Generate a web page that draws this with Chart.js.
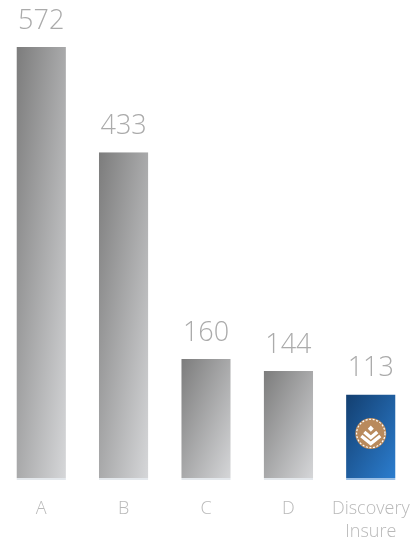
<!DOCTYPE html>
<html>
<head>
<meta charset="utf-8">
<script src="https://cdn.jsdelivr.net/npm/chart.js@4"></script>
<style>
  html, body { margin: 0; padding: 0; background: #fff; overflow: hidden; }
  canvas { display: block; }
</style>
</head>
<body>
<canvas id="chart" width="412" height="539"></canvas>
<script>
const labels = ['A', 'B', 'C', 'D', ['Discovery', 'Insure']];
const values = [572, 433, 160, 144, 113];
const highlight = 4;

const GREY = ['#7c7c7c', '#d6d7d9'];
const BLUE = ['#133f70', '#2c7ed0'];

// gradient running corner to corner inside the bar's own box
function bar_fill(ctx) {
  const chart = ctx.chart;
  if (!chart.chartArea) {
    return GREY[1];
  }
  const i = ctx.dataIndex;
  const xs = chart.scales.x;
  const ys = chart.scales.y;
  const w = (xs.width / labels.length) * 0.6;
  const x0 = xs.getPixelForValue(i) - w / 2;
  const y0 = ys.getPixelForValue(values[i]);
  const h = Math.max(ys.getPixelForValue(0) - y0, 1);
  const t = 2 / (1 / (w * w) + 1 / (h * h));
  const g = chart.ctx.createLinearGradient(x0, y0, x0 + t / w, y0 + t / h);
  const c = i === highlight ? BLUE : GREY;
  g.addColorStop(0, c[0]);
  g.addColorStop(1, c[1]);
  return g;
}

const value_labels = {
  id: 'value_labels',
  afterDatasetsDraw(chart) {
    const ctx = chart.ctx;
    const meta = chart.getDatasetMeta(0);
    ctx.save();
    ctx.font = '300 27px "Open Sans"';
    ctx.fillStyle = '#ababab';
    ctx.textAlign = 'center';
    ctx.textBaseline = 'alphabetic';
    meta.data.forEach((bar, i) => {
      ctx.fillText(String(values[i]), bar.x, bar.y - 18);
    });
    ctx.restore();
  }
};

function chevron(ctx, cx, cy, half, drop) {
  ctx.beginPath();
  ctx.moveTo(cx - half, cy);
  ctx.lineTo(cx, cy + drop);
  ctx.lineTo(cx + half, cy);
  ctx.stroke();
}

// round badge on the highlighted bar
const badge = {
  id: 'badge',
  afterDatasetsDraw(chart) {
    const bar = chart.getDatasetMeta(0).data[highlight];
    const ctx = chart.ctx;
    const cx = bar.x;
    const cy = bar.y + 39;
    const r = 15.5;
    ctx.save();
    ctx.beginPath();
    ctx.arc(cx, cy, r, 0, Math.PI * 2);
    ctx.fillStyle = '#b98a5c';
    ctx.fill();
    ctx.setLineDash([2, 1.6]);
    ctx.lineWidth = 1.2;
    ctx.strokeStyle = '#ffffff';
    ctx.beginPath();
    ctx.arc(cx, cy, r - 1.3, 0, Math.PI * 2);
    ctx.stroke();
    ctx.setLineDash([]);
    ctx.lineWidth = 3.4;
    chevron(ctx, cx, cy + 2.5, 9.5, 7.5);
    chevron(ctx, cx, cy - 1.5, 6.5, 5.5);
    ctx.fillStyle = '#ffffff';
    ctx.beginPath();
    ctx.moveTo(cx, cy - 8);
    ctx.lineTo(cx + 3, cy - 4.8);
    ctx.lineTo(cx, cy - 1.8);
    ctx.lineTo(cx - 3, cy - 4.8);
    ctx.closePath();
    ctx.fill();
    ctx.restore();
  }
};

new Chart(document.getElementById('chart'), {
  type: 'bar',
  data: {
    labels: labels,
    datasets: [{
      data: values,
      backgroundColor: bar_fill,
      borderColor: values.map((v, i) => i === highlight ? '#9cc0e6' : '#e4e8ec'),
      borderWidth: { top: 0, left: 0, right: 0, bottom: 2 },
      borderSkipped: false,
      barPercentage: 0.6,
      categoryPercentage: 1
    }]
  },
  options: {
    responsive: false,
    animation: false,
    layout: { padding: { top: 47, left: 0, right: 0, bottom: 0 } },
    plugins: {
      legend: { display: false },
      tooltip: { enabled: false }
    },
    scales: {
      y: {
        display: false,
        min: 0,
        max: 572
      },
      x: {
        grid: { display: false },
        border: { display: false },
        // keep the full width for the bars, the long label fits anyway
        afterFit: scale => {
          scale.height = 59;
          scale.paddingLeft = 0;
          scale.paddingRight = 0;
        },
        ticks: {
          padding: 9,
          maxRotation: 0,
          color: '#b9b9b9',
          font: { family: 'Open Sans', size: 18, weight: '300', lineHeight: 1.3 }
        }
      }
    }
  },
  plugins: [value_labels, badge]
});
</script>
</body>
</html>
